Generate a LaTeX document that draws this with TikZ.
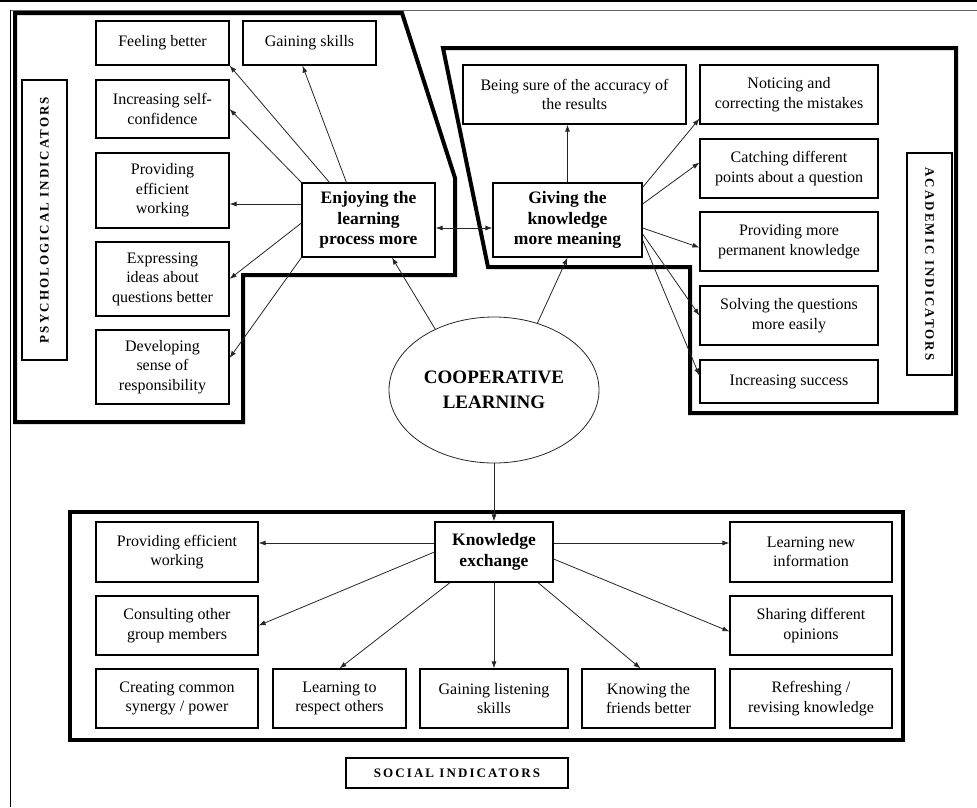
\documentclass[tikz,border=0pt]{standalone}
\usepackage{fontspec}
\setmainfont{Liberation Serif}
\newfontfamily\headfont[LetterSpace=16]{Liberation Serif}
\usetikzlibrary{arrows.meta,shapes.geometric}

\begin{document}
\begin{tikzpicture}[x=1pt,y=-1pt,
  indbox/.style={draw,line width=1.2pt,align=center,inner sep=0pt,
    font=\fontsize{16}{19.5}\selectfont},
  mainbox/.style={indbox,font=\fontsize{17.5}{20.5}\selectfont\bfseries},
  headbox/.style={draw,line width=1.2pt,inner sep=0pt,
    font=\headfont\bfseries\fontsize{13}{15}\selectfont},
  thickframe/.style={line width=4pt,line join=miter},
  link/.style={-{Latex[length=7pt,width=5pt]},line width=0.8pt,black!85},
  twolink/.style={{Latex[length=7pt,width=5pt]}-{Latex[length=7pt,width=5pt]},line width=0.8pt,black!85}]
\useasboundingbox (0,0) rectangle (977,807);

% page border
\draw[line width=1.5pt] (0,0.75) -- (977,0.75);
\draw[line width=1.5pt,black!60] (10,10.5) -- (977,10.5);
\draw[line width=1pt] (10.5,10) -- (10.5,807);

% frames
\draw[thickframe] (15,13) -- (402,13) -- (455,178) -- (455,275) -- (243,275)
  -- (243,422) -- (15,422) -- cycle;
\draw[thickframe] (443,48) -- (956,48) -- (956,413) -- (690,413) -- (690,267)
  -- (488,267) -- cycle;
\draw[thickframe] (70,512) rectangle (903,740);

% Psychological indicators
\node[headbox,rotate=90,minimum width=280,minimum height=45] (psyhead) at (44.5,220) {PSYCHOLOGICAL INDICATORS};
\node[indbox,minimum width=133,minimum height=44] (feel) at (162.5,43) {Feeling better};
\node[indbox,minimum width=133,minimum height=44] (gain) at (309.5,43) {Gaining skills};
\node[indbox,minimum width=133,minimum height=58] (conf) at (162.5,109) {Increasing self-\\confidence};
\node[indbox,minimum width=133,minimum height=75] (prov) at (162.5,190.5) {Providing\\efficient\\working};
\node[indbox,minimum width=133,minimum height=74] (expr) at (162.5,279) {Expressing\\ideas about\\questions better};
\node[indbox,minimum width=133,minimum height=74] (dev) at (162.5,367) {Developing\\sense of\\responsibility};
\node[mainbox,minimum width=133,minimum height=74] (enj) at (368.5,220) {Enjoying the\\learning\\process more};

% Academic indicators
\node[headbox,rotate=-90,minimum width=222,minimum height=45] (acahead) at (929.5,264) {ACADEMIC INDICATORS};
\node[mainbox,minimum width=149,minimum height=74] (giv) at (567.5,220) {Giving the\\knowledge\\more meaning};
\node[indbox,minimum width=223,minimum height=59] (sure) at (574.5,94.5) {Being sure of the accuracy of\\the results};
\node[indbox,minimum width=178,minimum height=59] (notice) at (789,94.5) {Noticing and\\correcting the mistakes};
\node[indbox,minimum width=178,minimum height=59] (catch) at (789,168.5) {Catching different\\points about a question};
\node[indbox,minimum width=178,minimum height=59] (perm) at (789,241.5) {Providing more\\permanent knowledge};
\node[indbox,minimum width=178,minimum height=59] (solve) at (789,315.5) {Solving the questions\\more easily};
\node[indbox,minimum width=178,minimum height=43] (incr) at (789,381.5) {Increasing success};

% Cooperative learning
\node[ellipse,draw,line width=0.8pt,black!85,text=black,minimum width=210,minimum height=146,inner sep=0pt,
  align=center,font=\fontsize{19}{25}\selectfont\bfseries] (coop) at (494,390) {COOPERATIVE\\LEARNING};

% Social indicators
\node[mainbox,minimum width=118,minimum height=60] (kex) at (494,552) {Knowledge\\exchange};
\node[indbox,minimum width=162,minimum height=60] (peff) at (177,552) {Providing efficient\\working};
\node[indbox,minimum width=162,minimum height=59] (cons) at (177,625.5) {Consulting other\\group members};
\node[indbox,minimum width=162,minimum height=59] (creat) at (177,698.5) {Creating common\\synergy / power};
\node[indbox,minimum width=133,minimum height=59] (resp) at (339.5,698.5) {Learning to\\respect others};
\node[indbox,minimum width=148,minimum height=59] (listen) at (494,698.5) {Gaining listening\\skills};
\node[indbox,minimum width=133,minimum height=59] (friend) at (648.5,698.5) {Knowing the\\friends better};
\node[indbox,minimum width=162,minimum height=59] (refr) at (811,698.5) {Refreshing /\\revising knowledge};
\node[indbox,minimum width=162,minimum height=60] (newinfo) at (811,552) {Learning new\\information};
\node[indbox,minimum width=162,minimum height=59] (share) at (811,625.5) {Sharing different\\opinions};
\node[headbox,minimum width=222,minimum height=30] (sochead) at (457,773) {SOCIAL INDICATORS};

% arrows: psychological
\draw[link] ([xshift=28]enj.north west) -- (feel.south east);
\draw[link] ([xshift=45]enj.north west) -- ([xshift=-7]gain.south);
\draw[link] (enj.north west) -- (conf.east);
\draw[link] ([yshift=16]enj.west) -- ([yshift=-13.5]prov.east);
\draw[link] ([yshift=-3]enj.west) -- (expr.east);
\draw[link] (enj.south west) -- ([yshift=9]dev.east);
\draw[twolink] ([yshift=-8]enj.east) -- ([yshift=-8]giv.west);
\draw[link] (coop.134) -- ([xshift=23.5]enj.south);
\draw[link] (coop.57) -- (giv.south);

% arrows: academic
\draw[link] (giv.north) -- (giv.north |- sure.south);
\draw[link] ([yshift=-5]giv.north east) -- ([yshift=6]notice.south west);
\draw[link] ([yshift=16]giv.east) -- ([yshift=6]catch.west);
\draw[link] ([yshift=-8]giv.east) -- ([yshift=-6]perm.west);
\draw[link] ([yshift=-14]giv.east) -- (solve.west);
\draw[link] ([yshift=-20]giv.east) -- ([yshift=6]incr.west);

% arrows: social
\draw[link] (coop.south) -- (kex.north);
\draw[link] ([yshift=9]kex.west) -- ([yshift=9]peff.east);
\draw[link] (kex.west) -- (cons.east);
\draw[link] ([xshift=-44]kex.south) -- (resp.north);
\draw[link] (kex.south) -- (listen.north);
\draw[link] ([xshift=44]kex.south) -- ([xshift=-8]friend.north);
\draw[link] ([yshift=9]kex.east) -- ([yshift=9]newinfo.west);
\draw[link] ([yshift=-7]kex.east) -- ([yshift=-6]share.west);
\end{tikzpicture}
\end{document}
